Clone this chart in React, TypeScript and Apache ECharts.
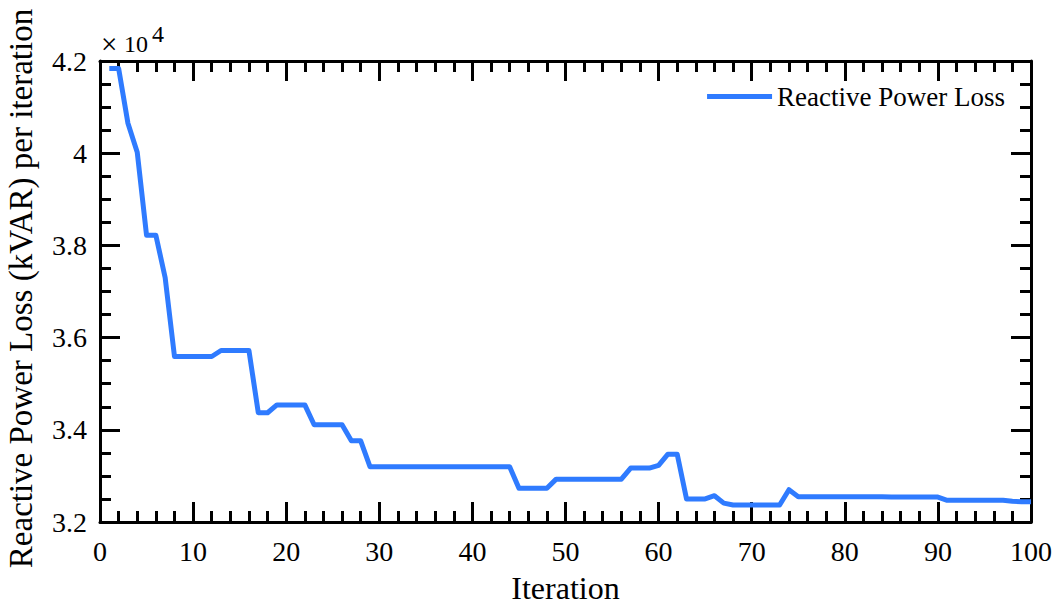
import React, { useEffect, useRef } from "react";
import * as echarts from "echarts";

const iterations: number[] = [
  1, 2, 3, 4, 5, 6, 7, 8, 9, 10,
  11, 12, 13, 14, 15, 16, 17, 18, 19, 20,
  21, 22, 23, 24, 25, 26, 27, 28, 29, 30,
  31, 32, 33, 34, 35, 36, 37, 38, 39, 40,
  41, 42, 43, 44, 45, 46, 47, 48, 49, 50,
  51, 52, 53, 54, 55, 56, 57, 58, 59, 60,
  61, 62, 63, 64, 65, 66, 67, 68, 69, 70,
  71, 72, 73, 74, 75, 76, 77, 78, 79, 80,
  81, 82, 83, 84, 85, 86, 87, 88, 89, 90,
  91, 92, 93, 94, 95, 96, 97, 98, 99, 100,
];

const reactiveLoss: number[] = [
  41840, 41840, 40650, 40020, 38220, 38220, 37300, 35590, 35590, 35590,
  35590, 35590, 35720, 35720, 35720, 35720, 34370, 34370, 34540, 34540,
  34540, 34540, 34110, 34110, 34110, 34110, 33760, 33760, 33200, 33200,
  33200, 33200, 33200, 33200, 33200, 33200, 33200, 33200, 33200, 33200,
  33200, 33200, 33200, 33200, 32730, 32730, 32730, 32730, 32930, 32930,
  32930, 32930, 32930, 32930, 32930, 32930, 33170, 33170, 33170, 33230,
  33470, 33470, 32500, 32500, 32500, 32570, 32410, 32370, 32370, 32370,
  32370, 32370, 32370, 32700, 32550, 32550, 32550, 32550, 32550, 32550,
  32550, 32550, 32550, 32550, 32540, 32540, 32540, 32540, 32540, 32540,
  32470, 32470, 32470, 32470, 32470, 32470, 32470, 32450, 32440, 32440,
];

const seriesName = "Reactive Power Loss";
const xTitle = "Iteration";
const yTitle = "Reactive Power Loss (kVAR) per iteration";

const FONT = "Liberation Serif";
const LINE_COLOR = "#2f7bff";

export default function App() {
  const ref = useRef<HTMLDivElement>(null);

  useEffect(() => {
    if (!ref.current) return;
    const chart = echarts.init(ref.current, undefined, { renderer: "svg" });

    const data = iterations.map((x, i) => [x, reactiveLoss[i]]);

    const lineOn = { show: true, onZero: false, lineStyle: { color: "#000", width: 3 } };
    const lineOff = { show: false, onZero: false };
    const majorTick = { show: true, inside: true, length: 20, lineStyle: { color: "#000", width: 3 } };
    const minorTick = { show: true, inside: true, length: 11, lineStyle: { color: "#000", width: 3 } };
    const noLabel = { show: false };
    const noSplit = { show: false };

    const xBase = { type: "value", min: 0, max: 100, splitLine: noSplit };
    const yBase = { type: "value", min: 32000, max: 42000, splitLine: noSplit };

    chart.setOption({
      animation: false,
      backgroundColor: "#fff",
      grid: {
        left: 100,
        right: 27,
        top: 61,
        bottom: 83,
        containLabel: false,
        outerBoundsMode: "none",
      },
      legend: {
        show: true,
        right: 48,
        top: 78,
        itemWidth: 65,
        itemHeight: 5,
        icon: "rect",
        textStyle: { fontFamily: FONT, fontSize: 27, color: "#000" },
        data: [{ name: seriesName, icon: "rect" }],
      },
      xAxis: [
        {
          ...xBase,
          interval: 10,
          position: "bottom",
          name: xTitle,
          nameLocation: "middle",
          nameGap: 50,
          nameTextStyle: { fontFamily: FONT, fontSize: 32, color: "#000" },
          axisLine: lineOn,
          axisTick: majorTick,
          axisLabel: { fontFamily: FONT, fontSize: 28, color: "#000", margin: 15 },
        },
        { ...xBase, interval: 2, position: "bottom", axisLine: lineOff, axisTick: minorTick, axisLabel: noLabel },
        { ...xBase, interval: 10, position: "top", axisLine: lineOn, axisTick: majorTick, axisLabel: noLabel },
        { ...xBase, interval: 2, position: "top", axisLine: lineOff, axisTick: minorTick, axisLabel: noLabel },
      ],
      yAxis: [
        {
          ...yBase,
          interval: 2000,
          position: "left",
          name: yTitle,
          nameLocation: "middle",
          nameGap: 63,
          nameTextStyle: { fontFamily: FONT, fontSize: 33, color: "#000", padding: [0, 0, 0, 6] },
          axisLine: lineOn,
          axisTick: majorTick,
          axisLabel: {
            fontFamily: FONT,
            fontSize: 28,
            color: "#000",
            margin: 13,
            formatter: (v: number) => String(Math.round(v / 1000) / 10),
          },
        },
        { ...yBase, interval: 500, position: "left", axisLine: lineOff, axisTick: minorTick, axisLabel: noLabel },
        { ...yBase, interval: 2000, position: "right", axisLine: lineOn, axisTick: majorTick, axisLabel: noLabel },
        { ...yBase, interval: 500, position: "right", axisLine: lineOff, axisTick: minorTick, axisLabel: noLabel },
      ],
      graphic: [
        {
          type: "text",
          left: 101,
          top: 29,
          style: { text: "×", fontFamily: FONT, fontSize: 29, fill: "#000" },
        },
        {
          type: "text",
          left: 124,
          top: 32,
          style: { text: "10", fontFamily: FONT, fontSize: 24, fill: "#000" },
        },
        {
          type: "text",
          left: 152,
          top: 22,
          style: { text: "4", fontFamily: FONT, fontSize: 24, fill: "#000" },
        },
      ],
      series: [
        {
          name: seriesName,
          type: "line",
          xAxisIndex: 0,
          yAxisIndex: 0,
          data,
          showSymbol: false,
          symbol: "none",
          lineStyle: { color: LINE_COLOR, width: 5, join: "round" },
          itemStyle: { color: LINE_COLOR },
          clip: false,
        },
      ],
    });

    return () => chart.dispose();
  }, []);

  return (
    <div
      ref={ref}
      style={{ position: "fixed", left: 0, top: 0, width: 1058, height: 605 }}
    />
  );
}
